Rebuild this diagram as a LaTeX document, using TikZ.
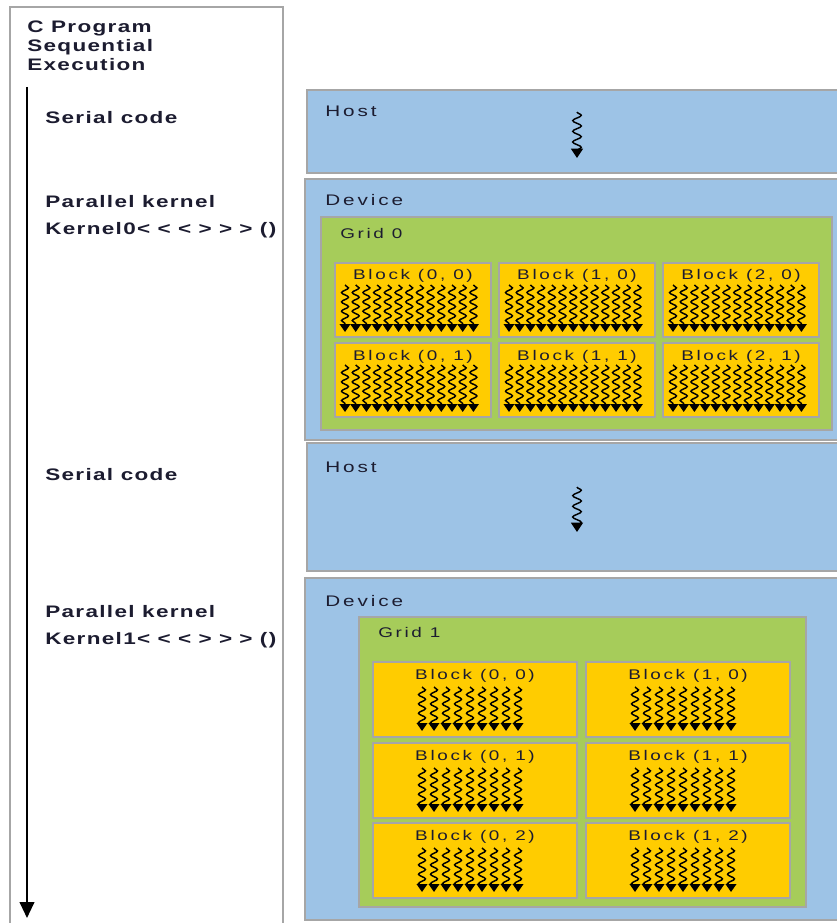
\documentclass[tikz,border=0pt]{standalone}
\usepackage{fontspec}
\setmainfont{Liberation Sans}[FakeStretch=1.35,LetterSpace=19]
\newfontfamily\progfont{Liberation Sans}[FakeStretch=1.35,LetterSpace=8]
\usetikzlibrary{arrows.meta,positioning,calc,decorations.pathmorphing}
\definecolor{ink}{HTML}{1C1C30}
\definecolor{frame}{HTML}{A6A6A6}
\definecolor{hostblue}{HTML}{9DC3E6}
\definecolor{gridgreen}{HTML}{A6CC5A}
\definecolor{blockyellow}{HTML}{FFCC00}
\newcommand\pxu{0.75pt}
\newcommand\kgap{\hspace{5.5pt}}
\tikzset{
  box/.style={draw=frame,line width=1.1pt,inner sep=0pt,outer sep=0pt,anchor=north west},
  hostbox/.style={box,fill=hostblue},
  gridbox/.style={box,fill=gridgreen},
  blockbox/.style={box,fill=blockyellow},
  progtext/.style={anchor=base west,inner sep=0pt,text=ink,font=\progfont\bfseries\fontsize{12.5}{14}\selectfont},
  boxlabel/.style={anchor=base west,inner sep=0pt,text=ink,font=\fontsize{11.5}{13}\selectfont},
  blocklabel/.style={anchor=base,inner sep=0pt,text=ink,font=\fontsize{10.5}{12}\selectfont},
  timeline/.style={line width=1.5pt,-{Triangle[length=12pt,width=11pt]}},
  thread/.style={line width=1.1pt,decorate,
    decoration={snake,amplitude=2.6pt,segment length=7pt,post length=4pt},
    -{Triangle[length=6pt,width=8pt]}},
  hostthread/.style={thread,decoration={amplitude=3.2pt,segment length=8pt},
    -{Triangle[length=7pt,width=9pt]}},
}

\begin{document}
\begin{tikzpicture}[x=0.75pt,y=0.75pt]
  \useasboundingbox (0,0) rectangle (837,-923);
  \fill[white] (0,0) rectangle (837,-923);
  \clip (0,0) rectangle (837,-923);

  % sequential program column
  \node[box,fill=white,minimum width=273*\pxu,minimum height=925*\pxu] (prog) at (10,-7) {};
  \node[progtext] (title1) at (27,-33) {C Program};
  \node[progtext] (title2) at (27,-52) {Sequential};
  \node[progtext] (title3) at (27,-71) {Execution};
  \coordinate (tstart) at (27,-87);
  \coordinate (tend) at (27,-918);
  \draw[timeline] (tstart) -- (tend);

  \node[progtext] (serial0) at (45,-124) {Serial code};
  \node[progtext] (par0) at (45,-208) {Parallel kernel};
  \node[progtext] (kern0) at (45,-235) {Kernel0<\kgap<\kgap<\kgap>\kgap>\kgap>\kgap()};
  \node[progtext] (serial1) at (45,-480) {Serial code};
  \node[progtext] (par1) at (45,-617) {Parallel kernel};
  \node[progtext] (kern1) at (45,-644) {Kernel1<\kgap<\kgap<\kgap>\kgap>\kgap>\kgap()};

  % host 0
  \node[hostbox,minimum width=540*\pxu,minimum height=83*\pxu] (host0) at (307,-90) {};
  \node[boxlabel] at (325,-117) {Host};
  \draw[hostthread] (577,-112) -- (577,-158);

  % device 0 with grid 0
  \node[hostbox,minimum width=540*\pxu,minimum height=261*\pxu] (dev0) at (305,-179) {};
  \node[boxlabel] at (325,-206) {Device};
  \node[gridbox,minimum width=511*\pxu,minimum height=213*\pxu] (grid0) at (321,-217) {};
  \node[blocklabel,anchor=base west] at (340,-239) {Grid 0};
  \foreach \c/\cx in {0/335,1/499,2/663}
    \foreach \r/\ry in {0/263,1/343} {
      \node[blockbox,minimum width=156*\pxu,minimum height=74*\pxu] (gA\c\r) at (\cx,-\ry) {};
      \node[blocklabel] at ($(gA\c\r.north)+(0,-17)$) {Block (\c, \r)};
      \foreach \t in {0,...,12}
        \draw[thread] ($(gA\c\r.north west)+(10+10.7*\t,-22)$) -- ++(0,-47);
    }

  % host 1
  \node[hostbox,minimum width=540*\pxu,minimum height=128*\pxu] (host1) at (307,-443) {};
  \node[boxlabel] at (325,-472) {Host};
  \draw[hostthread] (577,-487) -- (577,-532);

  % device 1 with grid 1
  \node[hostbox,minimum width=540*\pxu,minimum height=342*\pxu] (dev1) at (305,-578) {};
  \node[boxlabel] at (325,-606) {Device};
  \node[gridbox,minimum width=447*\pxu,minimum height=290*\pxu] (grid1) at (359,-617) {};
  \node[blocklabel,anchor=base west] at (378,-637) {Grid 1};
  \foreach \c/\cx in {0/373,1/586}
    \foreach \r/\ry in {0/662,1/743,2/823} {
      \node[blockbox,minimum width=204*\pxu,minimum height=75*\pxu] (gB\c\r) at (\cx,-\ry) {};
      \node[blocklabel] at ($(gB\c\r.north)+(0,-17)$) {Block (\c, \r)};
      \foreach \t in {0,...,8}
        \draw[thread] ($(gB\c\r.north west)+(49+12*\t,-25)$) -- ++(0,-44);
    }
\end{tikzpicture}
\end{document}
